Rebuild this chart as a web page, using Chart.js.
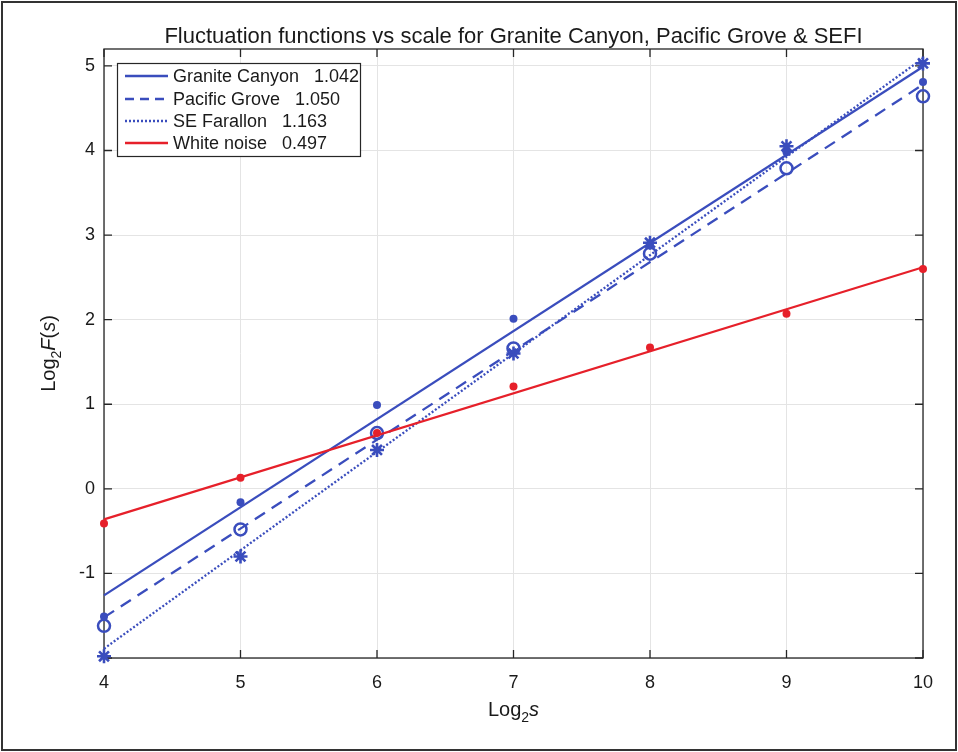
<!DOCTYPE html>
<html lang="en">
<head>
  <meta charset="UTF-8">
  <title>Fluctuation functions vs scale</title>
  <style>
    body { margin: 0; padding: 0; background: #fff; }
    #wrap { width: 958px; height: 752px; }
  </style>
</head>
<body>
  <div id="wrap">
    <canvas id="dfaChart" width="958" height="752"></canvas>
  </div>

  <script src="https://cdn.jsdelivr.net/npm/chart.js"></script>
  <script>
    // log2 of scale s (x axis)
    const scales = [4, 5, 6, 7, 8, 9, 10];

    // log2 F(s) per site
    const graniteCanyon = [-1.51, -0.16, 0.99, 2.01, 2.88, 3.98, 4.81];
    const pacificGrove  = [-1.62, -0.48, 0.66, 1.66, 2.78, 3.79, 4.64];
    const seFarallon    = [-1.98, -0.80, 0.46, 1.60, 2.91, 4.05, 5.03];
    const whiteNoise    = [-0.41, 0.13, 0.66, 1.21, 1.67, 2.07, 2.60];

    // fitted lines, value at log2 s = 4 and at log2 s = 10
    const fitEnds = [4, 10];
    const gcFit = [-1.26, 4.99];
    const pgFit = [-1.52, 4.78];
    const seFit = [-1.89, 5.09];
    const wnFit = [-0.36, 2.62];

    const seriesNames = ['Granite Canyon', 'Pacific Grove', 'SE Farallon', 'White noise'];
    const slopes = ['1.042', '1.050', '1.163', '0.497'];

    const xTicks = [4, 5, 6, 7, 8, 9, 10];
    const yTicks = [-2, -1, 0, 1, 2, 3, 4, 5];
    const yTickLabels = ['', '-1', '0', '1', '2', '3', '4', '5'];

    const BLUE = '#3a4dbd';
    const RED = '#e6202a';
    const FONT = "'Liberation Sans', Arial, sans-serif";

    const pts = ys => ys.map((y, i) => ({ x: scales[i], y: y }));
    const fit = ends => ends.map((y, i) => ({ x: fitEnds[i], y: y }));

    const lineDs = (data, color, dash) => ({
      data: fit(data),
      showLine: true,
      borderColor: color,
      borderWidth: 2.3,
      borderDash: dash,
      pointRadius: 0,
      clip: false
    });

    // draws "Log" + subscript 2 + rest, centred on 0
    function drawLogLabel(ctx, size, rest) {
      const parts = [{ t: 'Log', f: size + 'px ' + FONT, dy: 0 },
                     { t: '2', f: Math.round(size * 0.7) + 'px ' + FONT, dy: size * 0.3 }];
      rest.forEach(r => parts.push({ t: r.t, f: (r.it ? 'italic ' : '') + size + 'px ' + FONT, dy: 0 }));
      let total = 0;
      parts.forEach(p => { ctx.font = p.f; p.w = ctx.measureText(p.t).width; total += p.w; });
      let x = -total / 2;
      parts.forEach(p => {
        ctx.font = p.f;
        ctx.fillText(p.t, x, p.dy);
        x += p.w;
      });
    }

    const framePlugin = {
      id: 'frame',
      beforeDraw(chart) {
        const ctx = chart.ctx;
        ctx.save();
        ctx.fillStyle = '#fff';
        ctx.fillRect(0, 0, chart.width, chart.height);
        ctx.strokeStyle = '#333';
        ctx.lineWidth = 2;
        ctx.strokeRect(2, 2, chart.width - 4, chart.height - 4);
        ctx.restore();
      },
      beforeDatasetsDraw(chart) {
        const ctx = chart.ctx;
        const a = chart.chartArea;
        const xs = chart.scales.x, ys = chart.scales.y;
        ctx.save();
        ctx.strokeStyle = '#262626';
        ctx.lineWidth = 1.3;
        ctx.strokeRect(a.left, a.top, a.right - a.left, a.bottom - a.top);
        ctx.beginPath();
        xTicks.forEach(v => {
          const px = xs.getPixelForValue(v);
          ctx.moveTo(px, a.bottom); ctx.lineTo(px, a.bottom - 8);
          ctx.moveTo(px, a.top); ctx.lineTo(px, a.top + 8);
        });
        yTicks.forEach(v => {
          const py = ys.getPixelForValue(v);
          ctx.moveTo(a.left, py); ctx.lineTo(a.left + 8, py);
          ctx.moveTo(a.right, py); ctx.lineTo(a.right - 8, py);
        });
        ctx.stroke();
        ctx.restore();
      },
      afterDraw(chart) {
        const ctx = chart.ctx;
        const a = chart.chartArea;
        const cx = (a.left + a.right) / 2;
        ctx.save();
        ctx.fillStyle = '#1a1a1a';
        ctx.textBaseline = 'alphabetic';

        // title
        ctx.font = '22px ' + FONT;
        ctx.textAlign = 'center';
        ctx.fillText('Fluctuation functions vs scale for Granite Canyon, Pacific Grove & SEFI', cx, 43);

        // axis titles
        ctx.textAlign = 'left';
        ctx.save();
        ctx.translate(cx, 716);
        drawLogLabel(ctx, 20, [{ t: 's', it: true }]);
        ctx.restore();

        ctx.save();
        ctx.translate(55, (a.top + a.bottom) / 2);
        ctx.rotate(-Math.PI / 2);
        drawLogLabel(ctx, 20, [{ t: 'F', it: true }, { t: '(' }, { t: 's', it: true }, { t: ')' }]);
        ctx.restore();

        // legend box
        const lx = 117.5, ly = 63.5, lw = 243, lh = 93;
        ctx.fillStyle = '#fff';
        ctx.fillRect(lx, ly, lw, lh);
        ctx.strokeStyle = '#262626';
        ctx.lineWidth = 1.2;
        ctx.strokeRect(lx, ly, lw, lh);
        const rows = [76, 99, 121, 143];
        const colors = [BLUE, BLUE, BLUE, RED];
        const dashes = [[], [9, 6], [2, 2], []];
        ctx.font = '18px ' + FONT;
        ctx.textBaseline = 'middle';
        rows.forEach((y, i) => {
          ctx.beginPath();
          ctx.strokeStyle = colors[i];
          ctx.lineWidth = 2.3;
          ctx.setLineDash(dashes[i]);
          ctx.moveTo(125, y); ctx.lineTo(168, y);
          ctx.stroke();
          ctx.setLineDash([]);
          ctx.fillStyle = '#1a1a1a';
          ctx.fillText(seriesNames[i] + '   ' + slopes[i], 173, y + 1);
        });
        ctx.restore();
      }
    };

    const ctx = document.getElementById('dfaChart').getContext('2d');
    new Chart(ctx, {
      type: 'scatter',
      data: {
        datasets: [
          // white noise on top
          Object.assign(lineDs(wnFit, RED, []), { order: -2 }),
          { data: pts(whiteNoise), pointStyle: 'circle', pointRadius: 4, backgroundColor: RED,
            borderColor: RED, borderWidth: 0, clip: false, order: -3 },

          lineDs(gcFit, BLUE, []),
          { data: pts(graniteCanyon), pointStyle: 'circle', pointRadius: 4, backgroundColor: BLUE,
            borderColor: BLUE, borderWidth: 0, clip: false },

          lineDs(pgFit, BLUE, [12, 8]),
          { data: pts(pacificGrove), pointStyle: 'circle', pointRadius: 6, backgroundColor: 'rgba(0,0,0,0)',
            borderColor: BLUE, borderWidth: 2.5, clip: false },

          lineDs(seFit, BLUE, [2, 2]),
          { data: pts(seFarallon), pointStyle: 'star', pointRadius: 7, backgroundColor: BLUE,
            borderColor: BLUE, borderWidth: 2.6, clip: false }
        ]
      },
      options: {
        responsive: false,
        animation: false,
        layout: { padding: { top: 49, right: 35, bottom: 0, left: 0 } },
        plugins: {
          legend: { display: false },
          tooltip: { enabled: false },
          title: { display: false }
        },
        scales: {
          x: {
            type: 'linear',
            min: 4,
            max: 10,
            afterBuildTicks: s => { s.ticks = xTicks.map(v => ({ value: v })); },
            afterFit: s => { s.height = 94; },
            grid: { color: '#e4e4e4', lineWidth: 1, drawTicks: false },
            border: { display: false },
            ticks: { color: '#1a1a1a', font: { family: FONT, size: 18 }, padding: 14, maxRotation: 0 }
          },
          y: {
            type: 'linear',
            min: -2,
            max: 5.2,
            afterBuildTicks: s => { s.ticks = yTicks.map(v => ({ value: v })); },
            afterFit: s => { s.width = 104; },
            grid: { color: '#e4e4e4', lineWidth: 1, drawTicks: false },
            border: { display: false },
            ticks: {
              color: '#1a1a1a',
              font: { family: FONT, size: 18 },
              padding: 9,
              callback: v => yTickLabels[yTicks.indexOf(v)]
            }
          }
        }
      },
      plugins: [framePlugin]
    });
  </script>
</body>
</html>
